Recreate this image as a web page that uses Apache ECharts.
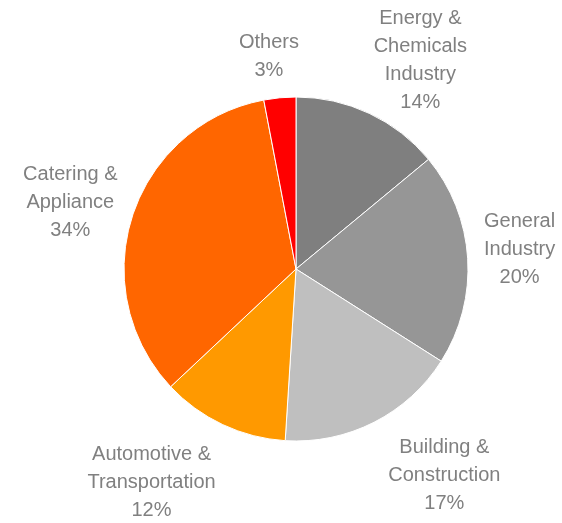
<!DOCTYPE html>
<html>
<head>
<meta charset="utf-8">
<script src="https://cdn.jsdelivr.net/npm/echarts@6/dist/echarts.min.js"></script>
<style>
  html, body { margin: 0; padding: 0; background: #fff; }
  #pie_share { width: 562px; height: 523px; }
</style>
</head>
<body>
<div id="pie_share"></div>
<script>
var sectors = ['Energy &\nChemicals\nIndustry', 'General\nIndustry', 'Building &\nConstruction',
               'Automotive &\nTransportation', 'Catering &\nAppliance', 'Others'];
var shares = [14, 20, 17, 12, 34, 3];
var colors = ['#7f7f7f', '#969696', '#bfbfbf', '#ff9900', '#ff6600', '#ff0000'];

// label line lengths per slice (labels sit outside, lines hidden)
var lineLen = [59, 49, 60, 64, 59, 41];
var lineLen2 = [26, 3, 43, 44, 6, 7];
// small vertical nudges of the labels
var labelShift = [0, -6, 0, 0, 5, 0];

var pie = echarts.init(document.getElementById('pie_share'));

var pieData = [];
for (var i = 0; i < sectors.length; i++) {
    pieData.push({
        name: sectors[i],
        value: shares[i],
        itemStyle: { color: colors[i] },
        labelLine: { show: false, length: lineLen[i], length2: lineLen2[i] }
    });
}

option = {
    animation: false,
    series: [
        {
            type: 'pie',
            center: [296, 269],
            radius: 172,
            startAngle: 90,
            clockwise: true,
            avoidLabelOverlap: false,
            itemStyle: {
                borderColor: '#ffffff',
                borderWidth: 1
            },
            label: {
                show: true,
                position: 'outside',
                distanceToLabelLine: 0,
                color: '#808080',
                fontFamily: 'Arial, "Liberation Sans", sans-serif',
                fontSize: 20,
                lineHeight: 28,
                formatter: function (p) {
                    return p.name + '\n' + p.value + '%';
                }
            },
            labelLayout: function (params) {
                return { align: 'center', verticalAlign: 'middle', dy: labelShift[params.dataIndex] };
            },
            data: pieData
        }
    ]
};
pie.setOption(option);
</script>
</body>
</html>
